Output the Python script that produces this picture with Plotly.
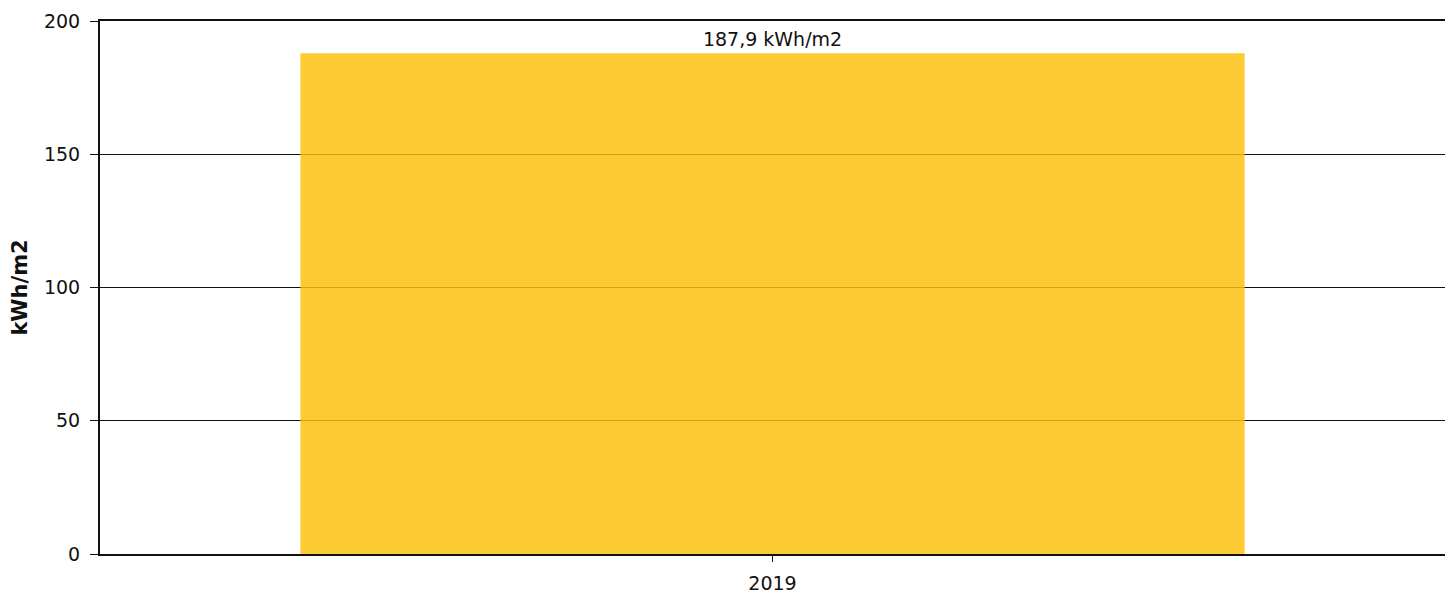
import plotly.graph_objects as go

years = ["2019"]
values = [187.9]
unit = "kWh/m2"

_FONT = "DejaVu Sans, Verdana, sans-serif"

fig = go.Figure(go.Bar(
    x=years, y=values, width=0.702,
    marker=dict(color="rgb(252,193,12)", line=dict(width=0), opacity=0.84),
    texttemplate="%{y:.1f} " + unit, textposition="outside",
    textfont=dict(size=19, color="#111", family=_FONT), cliponaxis=False,
    hoverinfo="skip",
))

axis_common = dict(showline=True, linecolor="#111", linewidth=2, mirror=True,
                   ticks="outside", tickcolor="#111", automargin=False,
                   tickfont=dict(size=19, color="#111", family=_FONT))

# page body has an 8px margin, so the figure is shrunk to fit the window
fig.update_layout(
    width=1445, height=589, template="plotly_white",
    separators=",.",
    font=dict(family=_FONT, color="#111"),
    margin=dict(l=92, r=8, t=13, b=43),
    plot_bgcolor="white", paper_bgcolor="white",
    showlegend=False,
    xaxis=dict(**axis_common, ticklen=6, tickwidth=1, showgrid=False, ticklabelstandoff=5),
    yaxis=dict(**axis_common, range=[0, 200], tickvals=[0, 50, 100, 150, 200],
               ticklen=8, tickwidth=1, showgrid=True, gridcolor="#111", gridwidth=1.2,
               zeroline=False, ticklabelstandoff=6,
               title=dict(text="<b>kWh/m2</b>", font=dict(size=21), standoff=13)),
)

fig.write_html("out.html")
